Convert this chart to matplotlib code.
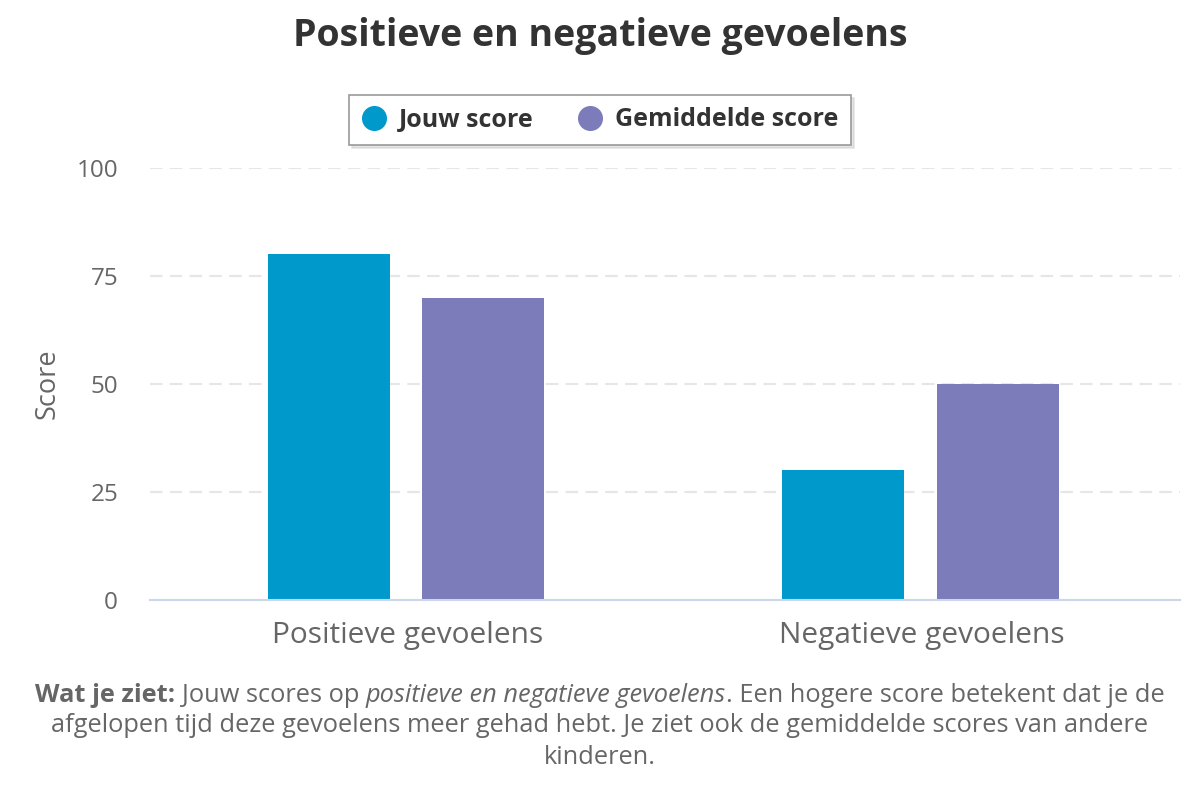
"""
Grouped bar chart: positieve en negatieve gevoelens (jouw score vs gemiddelde).
Saves out.png (1200x800).
"""

import matplotlib.pyplot as plt
import numpy as np
from matplotlib.lines import Line2D

plt.rcParams["font.family"] = ["Open Sans", "DejaVu Sans"]

CATEGORIES = ["Positieve gevoelens", "Negatieve gevoelens"]
JOUW_SCORE = [80, 30]
GEMIDDELDE_SCORE = [70, 50]
SERIES_NAMES = ["Jouw score", "Gemiddelde score"]
Y_TICKS = [0, 25, 50, 75, 100]

TITLE = "Positieve en negatieve gevoelens"
Y_LABEL = "Score"

# caption lines: (text, weight, style, space_before)
CAPTION_LINE_1 = [
    ("Wat je ziet:", "bold", "normal", False),
    ("Jouw scores op", "normal", "normal", True),
    ("positieve en negatieve gevoelens", "normal", "italic", True),
    (". Een hogere score betekent dat je de", "normal", "normal", False),
]
CAPTION_LINE_2 = "afgelopen tijd deze gevoelens meer gehad hebt. Je ziet ook de gemiddelde scores van andere"
CAPTION_LINE_3 = "kinderen."

BLUE = "#0099cc"
PURPLE = "#7c7cba"
TEXT_GREY = "#666666"
TITLE_COLOR = "#333333"
CAPTION_SIZE = 18.3


def draw_rich_line(fig, y, segments, fontsize, color):
    """Draw a centred line made of differently styled text pieces."""
    renderer = fig.canvas.get_renderer()
    fig_w = fig.bbox.width

    probe_a = fig.text(0, 0, "a a", fontsize=fontsize)
    probe_b = fig.text(0, 0, "aa", fontsize=fontsize)
    space_w = probe_a.get_window_extent(renderer).width - probe_b.get_window_extent(renderer).width
    probe_a.remove()
    probe_b.remove()

    texts = []
    for text, weight, style, _ in segments:
        t = fig.text(0, y, text, fontsize=fontsize, fontweight=weight,
                     fontstyle=style, color=color, ha="left", va="center")
        texts.append(t)

    widths = [t.get_window_extent(renderer).width for t in texts]
    gaps = [space_w if seg[3] else 0 for seg in segments]
    total = sum(widths) + sum(gaps)

    x = (fig_w - total) / 2
    for t, w, g in zip(texts, widths, gaps):
        x += g
        t.set_x(x / fig_w)
        x += w


def main() -> None:
    fig = plt.figure(figsize=(12, 8), dpi=100)
    ax = fig.add_axes([0.125, 0.25, 0.858, 0.54])

    x = np.arange(len(CATEGORIES))
    bar_width = 0.237
    offset = 0.15

    ax.bar(x - offset - 0.003, JOUW_SCORE, width=bar_width, color=BLUE, zorder=3)
    ax.bar(x + offset - 0.003, GEMIDDELDE_SCORE, width=bar_width, color=PURPLE, zorder=3)

    ax.set_xlim(-0.5, len(CATEGORIES) - 0.5)
    ax.set_ylim(0, 100)
    ax.set_yticks(Y_TICKS)
    ax.set_yticklabels([str(v) for v in Y_TICKS])
    ax.set_xticks(x)
    ax.set_xticklabels(CATEGORIES)

    ax.tick_params(axis="y", length=0, pad=23, labelsize=17.5, labelcolor=TEXT_GREY)
    ax.tick_params(axis="x", length=0, pad=15, labelsize=21.5, labelcolor=TEXT_GREY)

    for value in Y_TICKS[1:]:
        ax.axhline(value, color="#e6e6e6", linewidth=1.5, linestyle=(0, (6, 3.5)), zorder=1)

    for side in ["top", "right", "left"]:
        ax.spines[side].set_visible(False)
    ax.spines["bottom"].set_color("#ccd6eb")
    ax.spines["bottom"].set_linewidth(1.5)
    ax.spines["bottom"].set_zorder(4)

    ax.set_ylabel(Y_LABEL, fontsize=19.5, color=TEXT_GREY)
    ax.yaxis.set_label_coords(-0.086, 0.5)

    fig.text(0.5, 0.955, TITLE, ha="center", va="center", fontsize=27,
             fontweight="bold", color=TITLE_COLOR)

    handles = [
        Line2D([], [], marker="o", linestyle="none", markersize=17,
               markerfacecolor=BLUE, markeredgecolor=BLUE),
        Line2D([], [], marker="o", linestyle="none", markersize=17,
               markerfacecolor=PURPLE, markeredgecolor=PURPLE),
    ]
    legend = fig.legend(handles, SERIES_NAMES, loc="center", bbox_to_anchor=(0.5, 0.85),
                        ncol=2, frameon=True, fancybox=False, shadow={"color": "#cccccc"},
                        prop={"weight": "bold", "size": 18}, labelcolor=TITLE_COLOR,
                        handletextpad=0.5, columnspacing=1.75, borderpad=0.5,
                        handlelength=1.0, borderaxespad=0)
    frame = legend.get_frame()
    frame.set_edgecolor("#999999")
    frame.set_linewidth(1.2)

    draw_rich_line(fig, 1 - 695 / 800, CAPTION_LINE_1, fontsize=CAPTION_SIZE, color=TEXT_GREY)
    fig.text(0.5, 1 - 726 / 800, CAPTION_LINE_2, ha="center", va="center",
             fontsize=CAPTION_SIZE, color=TEXT_GREY)
    fig.text(0.5, 1 - 757 / 800, CAPTION_LINE_3, ha="center", va="center",
             fontsize=CAPTION_SIZE, color=TEXT_GREY)

    fig.savefig("out.png", dpi=100, facecolor="white")
    plt.close(fig)


if __name__ == "__main__":
    main()
